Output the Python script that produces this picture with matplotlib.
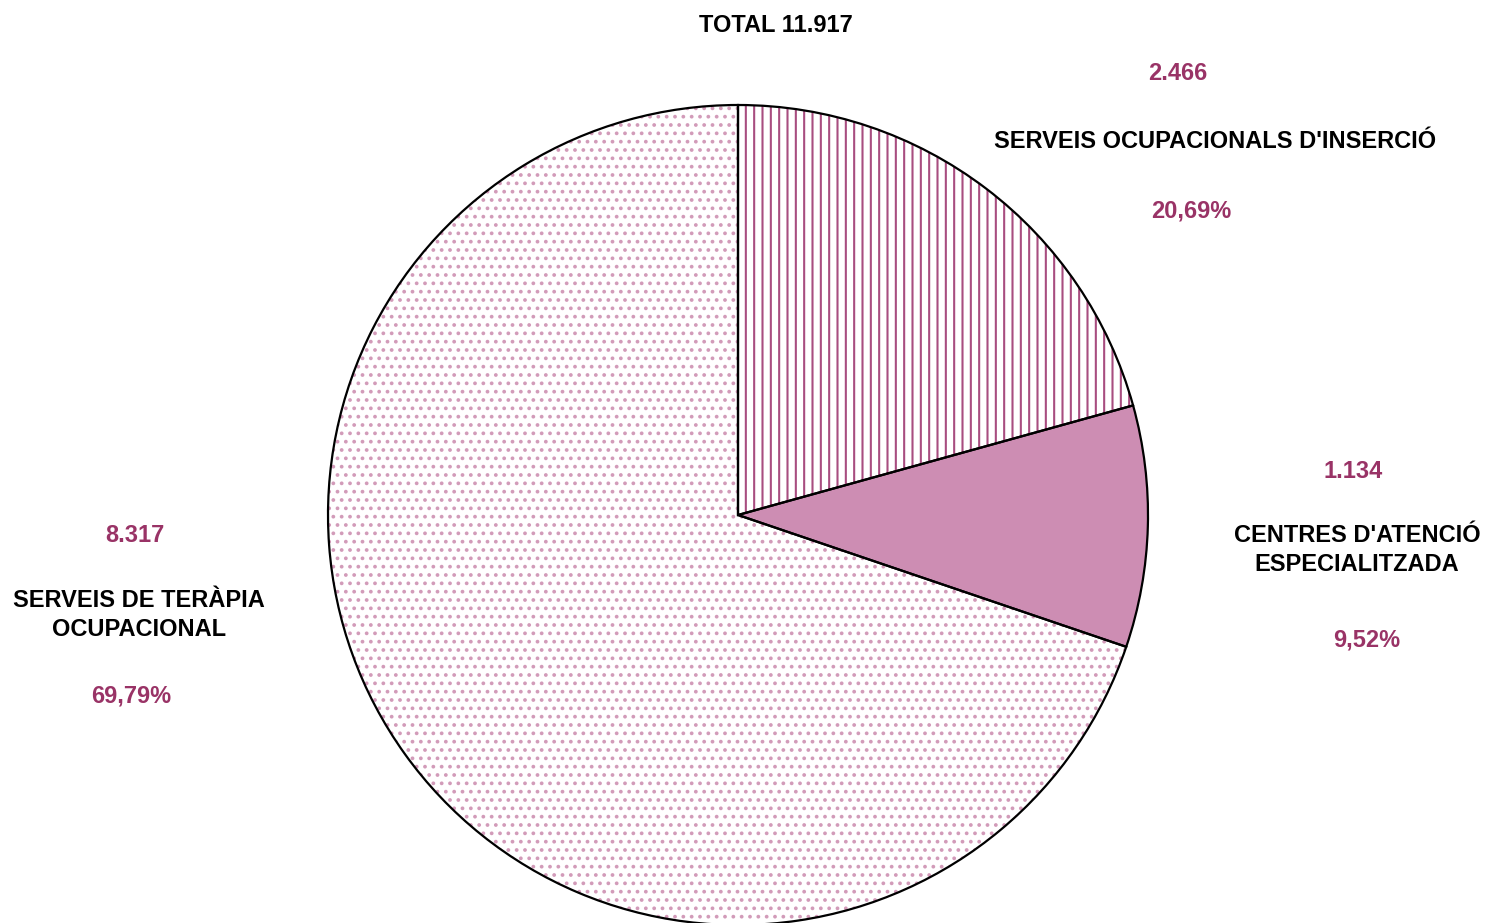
import matplotlib
matplotlib.use("Agg")
import matplotlib.pyplot as plt

categories = ["SERVEIS OCUPACIONALS D'INSERCIÓ", "CENTRES D'ATENCIÓ\nESPECIALITZADA", "SERVEIS DE TERÀPIA\nOCUPACIONAL"]
values = [2466, 1134, 8317]
value_labels = ["2.466", "1.134", "8.317"]
pct_labels = ["20,69%", "9,52%", "69,79%"]
total_label = "TOTAL 11.917"

W, H = 1488, 923
plt.rcParams['font.family'] = ['Liberation Sans', 'DejaVu Sans']
plt.rcParams['hatch.linewidth'] = 1.5

fig = plt.figure(figsize=(W / 100, H / 100), dpi=100)
ax = fig.add_axes([0, 0, 1, 1])
ax.axis('off')

cx, cy, R = 738, 515, 410

mag = '#993366'
faces = ['white', '#cd8db3', 'white']
hatches = ['||', '', '..']
hcolors = ['#a84d80', mag, '#d29bb9']
wedges, _ = ax.pie(values, startangle=90, counterclock=False, radius=1,
                   colors=faces, wedgeprops=dict(linewidth=0))
for w, h, hc in zip(wedges, hatches, hcolors):
    w.set_hatch(h)
    w.set_edgecolor(hc)
    w.set_linewidth(0)
ax.pie(values, startangle=90, counterclock=False, radius=1,
       wedgeprops=dict(fill=False, linewidth=1.6, edgecolor='black'))
ax.set_aspect('auto')
ax.set_xlim((0 - cx) / R, (W - cx) / R)
ax.set_ylim((cy - H) / R, (cy - 0) / R)

def ftext(x, y, s, color='black', size=17):
    fig.text(x / W, 1 - y / H, s, ha='center', va='center', color=color,
             fontsize=size, fontweight='bold', linespacing=1.35)

ftext(776, 25, total_label)
ftext(1178, 74, value_labels[0], mag)
ftext(1215, 142, categories[0])
ftext(1191, 211, pct_labels[0], mag)
ftext(1353, 471, value_labels[1], mag)
ftext(1357, 550, categories[1])
ftext(1367, 640, pct_labels[1], mag)
ftext(135, 536, value_labels[2], mag)
ftext(139, 615, categories[2])
ftext(131, 696, pct_labels[2], mag)

fig.savefig('out.png', dpi=100)
